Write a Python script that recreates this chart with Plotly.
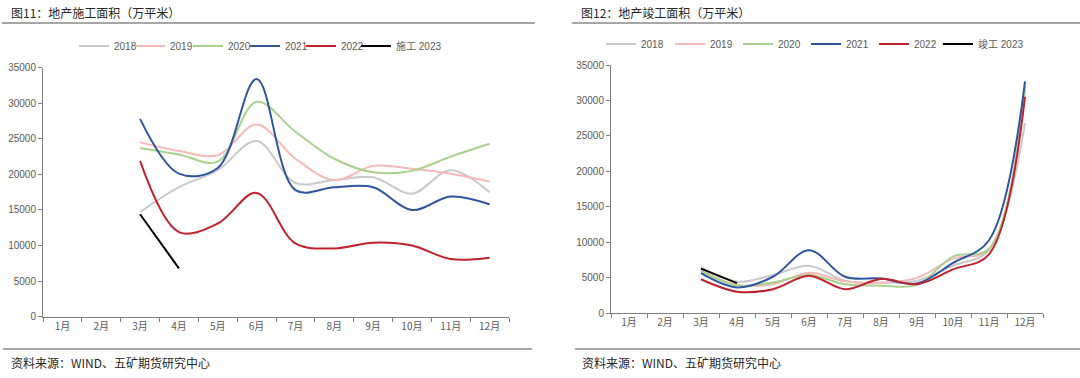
import plotly.graph_objects as go

months = ["1月", "2月", "3月", "4月", "5月", "6月", "7月", "8月", "9月", "10月", "11月", "12月"]

# 地产施工面积（万平米）
sg_2018 = [None, None, 14700, 18200, 20600, 24700, 18800, 19200, 19600, 17300, 20600, 17500]
sg_2019 = [None, None, 24500, 23300, 22700, 27000, 22200, 19200, 21200, 20800, 20100, 19000]
sg_2020 = [None, None, 23700, 22800, 21800, 30200, 26000, 22200, 20300, 20500, 22500, 24300]
sg_2021 = [None, None, 27800, 20100, 20900, 33400, 17800, 18200, 18200, 15000, 16900, 15800]
sg_2022 = [None, None, 21900, 11900, 13100, 17400, 10300, 9600, 10400, 10000, 8100, 8300]
sg_2023 = [None, None, 14400, 6800]

# 地产竣工面积（万平米）
jg_2018 = [None, None, 6500, 4450, 5400, 6700, 4600, 4300, 4600, 6700, 8900, 26800]
jg_2019 = [None, None, 6100, 4000, 4100, 5700, 4500, 4300, 5000, 7700, 9000, 31500]
jg_2020 = [None, None, 5950, 3950, 4350, 5400, 4100, 3900, 4000, 8000, 9100, 32100]
jg_2021 = [None, None, 5650, 3650, 5150, 8900, 5150, 4900, 4200, 7100, 10300, 32700]
jg_2022 = [None, None, 4800, 3050, 3400, 5300, 3400, 4850, 4100, 6200, 8300, 30500]
jg_2023 = [None, None, 6300, 4250]

colors = {"2018": "#C9C9C9", "2019": "#F5B8B8", "2020": "#A9D18E",
          "2021": "#2F55A0", "2022": "#C0222C", "2023": "#000000"}

W, H = 1080, 378
def px(x): return x / W
def py(y): return 1 - y / H

fig = go.Figure()

left = [("2018", sg_2018), ("2019", sg_2019), ("2020", sg_2020),
        ("2021", sg_2021), ("2022", sg_2022), ("施工 2023", sg_2023)]
right = [("2018", jg_2018), ("2019", jg_2019), ("2020", jg_2020),
         ("2021", jg_2021), ("2022", jg_2022), ("竣工 2023", jg_2023)]

# legend entry positions (left edge of each entry, px)
left_leg_x = [74, 130, 188, 245, 301, 356]
right_leg_x = [601, 670, 738, 806, 874, 938]

legend_font = dict(family="Liberation Sans, Noto Sans CJK SC", size=10, color="#595959")
legends = {}
n = 0
for series, xs, yax, leg_y in [(left, left_leg_x, ("x", "y"), 46), (right, right_leg_x, ("x2", "y2"), 44)]:
    for (name, vals), lx in zip(series, xs):
        n += 1
        lid = "legend" if n == 1 else f"legend{n}"
        legends[lid] = dict(orientation="h", x=px(lx), xanchor="left", y=py(leg_y), yanchor="middle",
                            font=legend_font, itemwidth=30, bgcolor="rgba(0,0,0,0)", borderwidth=0)
        key = name[-4:]
        fig.add_trace(go.Scatter(x=months[:len(vals)], y=vals, name=name, mode="lines",
                                 line=dict(color=colors[key], width=2,
                                           shape="linear" if key == "2023" else "spline", smoothing=1.0),
                                 xaxis=yax[0], yaxis=yax[1], legend=lid, connectgaps=False))

axis_font = dict(family="Liberation Sans, Arial, sans-serif", size=10, color="#595959")
xcommon = dict(type="category", categoryorder="array", categoryarray=months,
               range=[-0.5, 11.5], showline=True, linecolor="#7F7F7F", linewidth=1,
               ticks="outside", tickson="boundaries", ticklen=4, tickcolor="#7F7F7F",
               showgrid=False, zeroline=False, tickfont=dict(family="Noto Sans CJK SC", size=10, color="#595959"))
ycommon = dict(range=[0, 35000], dtick=5000, showline=True, linecolor="#7F7F7F", linewidth=1,
               ticks="outside", ticklen=4, tickcolor="#7F7F7F", showgrid=False, zeroline=False,
               tickfont=axis_font, tickformat="d")

fig.update_layout(
    width=W, height=H, margin=dict(l=0, r=0, t=0, b=0, pad=0, autoexpand=False),
    paper_bgcolor="white", plot_bgcolor="white",
    xaxis=dict(domain=[px(43), px(509)], anchor="y", **xcommon),
    yaxis=dict(domain=[py(316.7), py(67.7)], anchor="x", **ycommon),
    xaxis2=dict(domain=[px(611), px(1043)], anchor="y2", **xcommon),
    yaxis2=dict(domain=[py(313.3), py(65)], anchor="x2", **ycommon),
    showlegend=True,
    **legends,
)

title_font = dict(family="Noto Sans CJK SC", size=12, color="#262626")
src_font = dict(family="Noto Sans CJK SC", size=12, color="#262626")
fig.add_annotation(text="图11：地产施工面积（万平米）", x=px(9), y=py(12), xref="paper", yref="paper",
                   xanchor="left", yanchor="middle", showarrow=False, font=title_font)
fig.add_annotation(text="图12：地产竣工面积（万平米）", x=px(579), y=py(12), xref="paper", yref="paper",
                   xanchor="left", yanchor="middle", showarrow=False, font=title_font)
fig.add_annotation(text="资料来源：WIND、五矿期货研究中心", x=px(9), y=py(362), xref="paper", yref="paper",
                   xanchor="left", yanchor="middle", showarrow=False, font=src_font)
fig.add_annotation(text="资料来源：WIND、五矿期货研究中心", x=px(580), y=py(362), xref="paper", yref="paper",
                   xanchor="left", yanchor="middle", showarrow=False, font=src_font)

line_style = dict(color="#A6A6A6", width=2)
for x0, x1, y in [(2, 535, 23), (572, 1080, 23), (3, 532, 349), (575, 1080, 349)]:
    fig.add_shape(type="line", xref="paper", yref="paper", x0=px(x0), x1=px(x1), y0=py(y), y1=py(y),
                  line=line_style)

fig.write_html("out.html", config={"displayModeBar": False},
               post_script="document.body.style.margin='0px';")
